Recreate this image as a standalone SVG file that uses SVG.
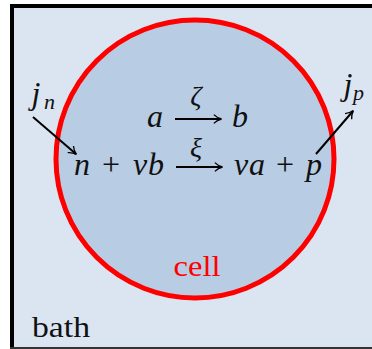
<svg xmlns="http://www.w3.org/2000/svg" width="372" height="349" viewBox="0 0 372 349">
<defs>
<style>
text{font-family:'Liberation Serif','DejaVu Serif',serif}
.m{font-style:italic;font-size:32px;fill:#111;text-anchor:middle}
.r{font-size:32px;fill:#111;text-anchor:middle}
.s{font-style:italic;font-size:28px;fill:#111;text-anchor:middle}
.sub{font-style:italic;font-size:22px;fill:#111}
.lbl{font-size:29px}
.ar{stroke:#000;stroke-width:2;fill:none;marker-end:url(#h)}
</style>
<marker id="h" viewBox="0 0 10 10" refX="8.5" refY="5" markerWidth="11" markerHeight="11" orient="auto" markerUnits="userSpaceOnUse">
<path d="M2,1 Q5,4 9,5 Q5,6 2,9" fill="none" stroke="#000" stroke-width="1.2"/>
</marker>
</defs>
<g id="bath">
<rect x="12" y="6" width="360" height="342" fill="#dbe5f1"/>
<path d="M12,349 V6 H372" fill="none" stroke="#000" stroke-width="4"/>
<line x1="10" y1="348" x2="372" y2="348" stroke="#333" stroke-width="2"/>
<text class="lbl" x="32" y="337" fill="#111" textLength="58" lengthAdjust="spacingAndGlyphs">bath</text>
</g>
<g id="cell">
<circle cx="195" cy="159" r="139" fill="#b8cce4" stroke="#ff0000" stroke-width="5"/>
<text class="lbl" x="197" y="276" fill="#ff0000" text-anchor="middle" textLength="47" lengthAdjust="spacingAndGlyphs">cell</text>
</g>
<g id="reaction1">
<text class="m" x="155" y="127">a</text>
<text class="s" x="196" y="105">ζ</text>
<text class="m" x="240" y="127">b</text>
</g>
<g id="reaction2">
<text class="m" x="82" y="175">n</text>
<text class="r" x="111" y="175">+</text>
<text class="m" x="140" y="175">ν</text>
<text class="m" x="156" y="175">b</text>
<text class="s" x="196" y="157">ξ</text>
<text class="m" x="241" y="175">ν</text>
<text class="m" x="257" y="175">a</text>
<text class="r" x="285" y="175">+</text>
<text class="m" x="314" y="175">p</text>
</g>
<g id="jn">
<text class="m" x="36" y="104">j</text>
<text class="sub" x="44" y="109">n</text>
</g>
<g id="jp">
<text class="m" x="348" y="95">j</text>
<text class="sub" x="353" y="100">p</text>
</g>
<g id="connectors">
<line class="ar" x1="175" y1="119" x2="221" y2="119"/>
<line class="ar" x1="176" y1="167" x2="222" y2="167"/>
<line class="ar" x1="33" y1="117" x2="76" y2="154"/>
<line class="ar" x1="316" y1="154" x2="353" y2="111"/>
</g>
</svg>
